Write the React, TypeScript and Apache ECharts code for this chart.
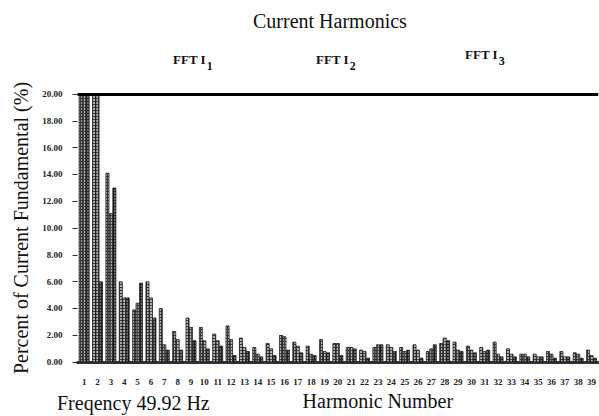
import React, { useEffect, useRef } from "react";
import * as echarts from "echarts";

const harmonics = [
  "1", "2", "3", "4", "5", "6", "7", "8", "9", "10",
  "11", "12", "13", "14", "15", "16", "17", "18", "19", "20",
  "21", "22", "23", "24", "25", "26", "27", "28", "29", "30",
  "31", "32", "33", "34", "35", "36", "37", "38", "39",
];

const fftI1 = [
  20, 20, 14.1, 6.0, 3.9, 6.0, 4.0, 2.3, 3.3, 2.6,
  2.1, 2.7, 1.8, 1.1, 1.4, 2.0, 1.5, 1.2, 1.7, 1.4,
  1.1, 0.9, 1.1, 1.3, 1.1, 1.3, 0.8, 1.4, 1.5, 1.2,
  1.1, 1.5, 1.0, 0.6, 0.6, 0.8, 0.8, 0.7, 0.9,
];
const fftI2 = [
  20, 20, 11.1, 4.8, 4.4, 4.8, 1.3, 1.7, 2.6, 1.6,
  1.6, 1.7, 1.1, 0.6, 1.0, 1.9, 1.2, 0.6, 0.8, 1.4,
  1.1, 0.8, 1.3, 1.1, 0.8, 0.9, 1.0, 1.8, 0.9, 0.9,
  0.8, 0.6, 0.6, 0.6, 0.4, 0.6, 0.4, 0.6, 0.5,
];
const fftI3 = [
  20, 6.0, 13.0, 4.8, 5.9, 3.3, 0.9, 0.9, 1.6, 1.0,
  1.2, 0.5, 0.8, 0.4, 0.5, 0.9, 0.7, 0.5, 0.7, 0.5,
  1.0, 0.3, 1.3, 0.8, 0.9, 0.3, 1.3, 1.6, 0.8, 0.7,
  0.9, 0.4, 0.4, 0.4, 0.4, 0.3, 0.4, 0.3, 0.3,
];

const seriesNames = ["FFT I1", "FFT I2", "FFT I3"];
const seriesData = [fftI1, fftI2, fftI3];
const subscripts = ["1", "2", "3"];

const SERIF = "'Liberation Serif', 'DejaVu Serif', serif";

export default function App() {
  const ref = useRef<HTMLDivElement>(null);
  useEffect(() => {
    if (!ref.current) return;
    const chart = echarts.init(ref.current, null, { renderer: "svg" });
    const colors = ["#3a3a3a", "#4a4a4a", "#222222"];
    const legendPos = [
      { left: 167, top: 53 },
      { left: 310, top: 53 },
      { left: 459, top: 48 },
    ];
    const richLegend = {
      a: { fontSize: 13, fontWeight: "bold", fontFamily: SERIF, color: "#111", verticalAlign: "top" },
      s: { fontSize: 12, fontWeight: "bold", fontFamily: SERIF, color: "#111", verticalAlign: "top", padding: [7, 0, 0, 1] },
    };
    chart.setOption({
      animation: false,
      backgroundColor: "#ffffff",
      title: {
        text: "Current Harmonics",
        left: 253,
        top: 11,
        padding: 0,
        textStyle: { fontFamily: SERIF, fontSize: 20, fontWeight: "normal", color: "#111" },
      },
      legend: seriesNames.map((n, i) => ({
        data: [n],
        left: legendPos[i].left,
        top: legendPos[i].top,
        padding: 0,
        itemWidth: 0,
        itemHeight: 0,
        formatter: () => `{a|FFT I}{s|${subscripts[i]}}`,
        textStyle: { rich: richLegend },
      })),
      grid: { left: 77.5, top: 94, width: 525, height: 268 },
      xAxis: {
        type: "category",
        data: harmonics,
        name: "Harmonic Number",
        nameLocation: "middle",
        nameGap: 28,
        nameTextStyle: { fontFamily: SERIF, fontSize: 20, color: "#111", padding: [0, 0, 0, 80] },
        axisLine: { lineStyle: { color: "#333", width: 3 } },
        axisTick: { alignWithLabel: true, length: 11, lineStyle: { color: "#333", width: 1.5 } },
        axisLabel: {
          interval: 0,
          margin: 15,
          fontFamily: SERIF,
          fontSize: 9,
          fontWeight: "bold",
          color: "#222",
        },
      },
      yAxis: {
        type: "value",
        min: 0,
        max: 20,
        interval: 2,
        name: "Percent of Current Fundamental (%)",
        nameLocation: "middle",
        nameGap: 47,
        nameTextStyle: { fontFamily: SERIF, fontSize: 20, color: "#111" },
        axisLine: { show: false },
        axisTick: { show: true, length: 5, lineStyle: { color: "#333", width: 1 } },
        splitLine: { show: false },
        axisLabel: {
          margin: 15,
          fontFamily: SERIF,
          fontSize: 9,
          fontWeight: "bold",
          color: "#222",
          formatter: (v: number) => v.toFixed(2),
        },
      },
      series: seriesNames.map((n, i) => ({
        name: n,
        type: "bar",
        data: seriesData[i],
        barGap: "0%",
        barCategoryGap: "22%",
        itemStyle: {
          color: colors[i],
          borderColor: "#111",
          borderWidth: 0.5,
          decal: {
            symbol: "rect",
            symbolSize: 1,
            color: i === 2 ? "rgba(255,255,255,0.35)" : "rgba(255,255,255,0.6)",
            dashArrayX: [2, 1],
            dashArrayY: [2, 1],
            rotation: 0,
          },
        },
        markLine:
          i === 2
            ? {
                silent: true,
                symbol: "none",
                label: { show: false },
                lineStyle: { color: "#000", width: 3, type: "solid" },
                data: [{ yAxis: 20 }],
              }
            : undefined,
      })),
      graphic: [
        {
          type: "text",
          left: 57,
          top: 393,
          style: { text: "Freqency 49.92 Hz", fontFamily: SERIF, fontSize: 20, fill: "#111" },
        },
      ],
    });
    return () => chart.dispose();
  }, []);
  return (
    <div
      ref={ref}
      style={{ position: "absolute", left: 0, top: 0, width: 599, height: 416 }}
    />
  );
}
